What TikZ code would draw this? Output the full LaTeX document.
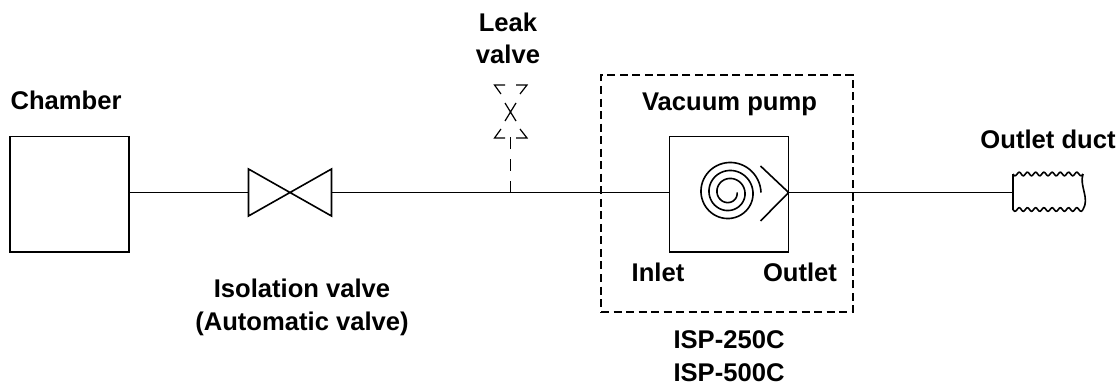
\documentclass[tikz,border=0pt]{standalone}
\usepackage{fontspec}
\setmainfont{Liberation Sans}
\tikzset{
  line/.style={draw=black,line width=1.2pt},
  box/.style={line,rectangle,inner sep=0pt,minimum width=89.4pt,minimum height=86.6pt},
  lbl/.style={font=\bfseries\fontsize{19.2}{24.6}\selectfont,align=center,inner sep=0pt,text=black,anchor=base},
  leak/.style={draw=black,line width=0.9pt},
  ldash/.style={draw=black,line width=0.9pt,dash pattern=on 8.7pt off 7.6pt}
}
\begin{document}
\begin{tikzpicture}[x=0.75pt,y=-0.75pt]
\useasboundingbox (0,0) rectangle (1120,385);
% chamber and pump
\node[box] (chamber) at (69.5,194.3) {};
\node[box] (pump) at (729,194.3) {};
% isolation valve
\coordinate (vL) at (248.5,192.5);
\coordinate (vR) at (331.5,192.5);
\draw[line,line join=miter] (248.5,169) -- (331.5,216) -- (331.5,169) -- (248.5,216) -- cycle;
% lines
\coordinate (cOut) at (129.2,192.5);
\coordinate (pIn) at (669.4,192.5);
\coordinate (pOut) at (788.6,192.5);
\coordinate (dIn) at (1013,192.5);
\coordinate (tee) at (510.5,192.5);
\draw[line] (cOut) -- (vL);
\draw[line] (vR) -- (pIn);
\draw[line] (pOut) -- (dIn);
% leak valve
\coordinate (leakBase) at (510.5,137);
\draw[ldash] (tee) -- (leakBase);
\draw[leak] (505,103) -- (516,121) (516,103) -- (505,121);
\draw[leak] (505,85) -- (494.5,85) -- (501,94);
\draw[leak] (516,85) -- (527,85) -- (520,94);
\draw[leak] (505,138) -- (494.5,138) -- (501,129);
\draw[leak] (516,138) -- (527,138) -- (520,129);
% spiral
\draw[line,smooth] plot[domain=0:1080,samples=180,variable=\a] ({729+(8+\a/45)*cos(\a)},{192.5+(8+\a/45)*sin(\a)});
% pump arrow
\draw[line,line join=miter] (760.5,166) -- (788.6,192.5) -- (760.5,221);
% dashed frame
\node[draw=black,line width=1.4pt,dash pattern=on 6pt off 3.4pt,minimum width=189pt,minimum height=177.75pt,inner sep=0pt] (frame) at (727,193.5) {};
% outlet duct
\draw[line,smooth] plot[domain=0:1,samples=81,variable=\t] ({1013+70*\t},{174+1.8*sin(3060*\t)});
\draw[line,smooth] plot[domain=0:1,samples=81,variable=\t] ({1013+70*\t},{209.5+1.8*sin(3060*\t)});
\draw[line] (1013,174) -- (1013,209.5);
\draw[line] (1083,174) .. controls (1079,186) and (1090,198) .. (1083,209.5);
% labels
\node[lbl] (tChamber) at (66,109) {Chamber};
\node[lbl] (tLeak) at (508,64) {Leak\\valve};
\node[lbl] (tVac) at (729.5,110) {Vacuum pump};
\node[lbl] (tDuct) at (1048,148) {Outlet duct};
\node[lbl] (tIn) at (658,281.7) {Inlet};
\node[lbl] (tOut) at (800,281.7) {Outlet};
\node[lbl] (tIso) at (302,330) {Isolation valve\\(Automatic valve)};
\node[lbl] (tISP) at (729,381.5) {ISP-250C\\ISP-500C};
\end{tikzpicture}
\end{document}
